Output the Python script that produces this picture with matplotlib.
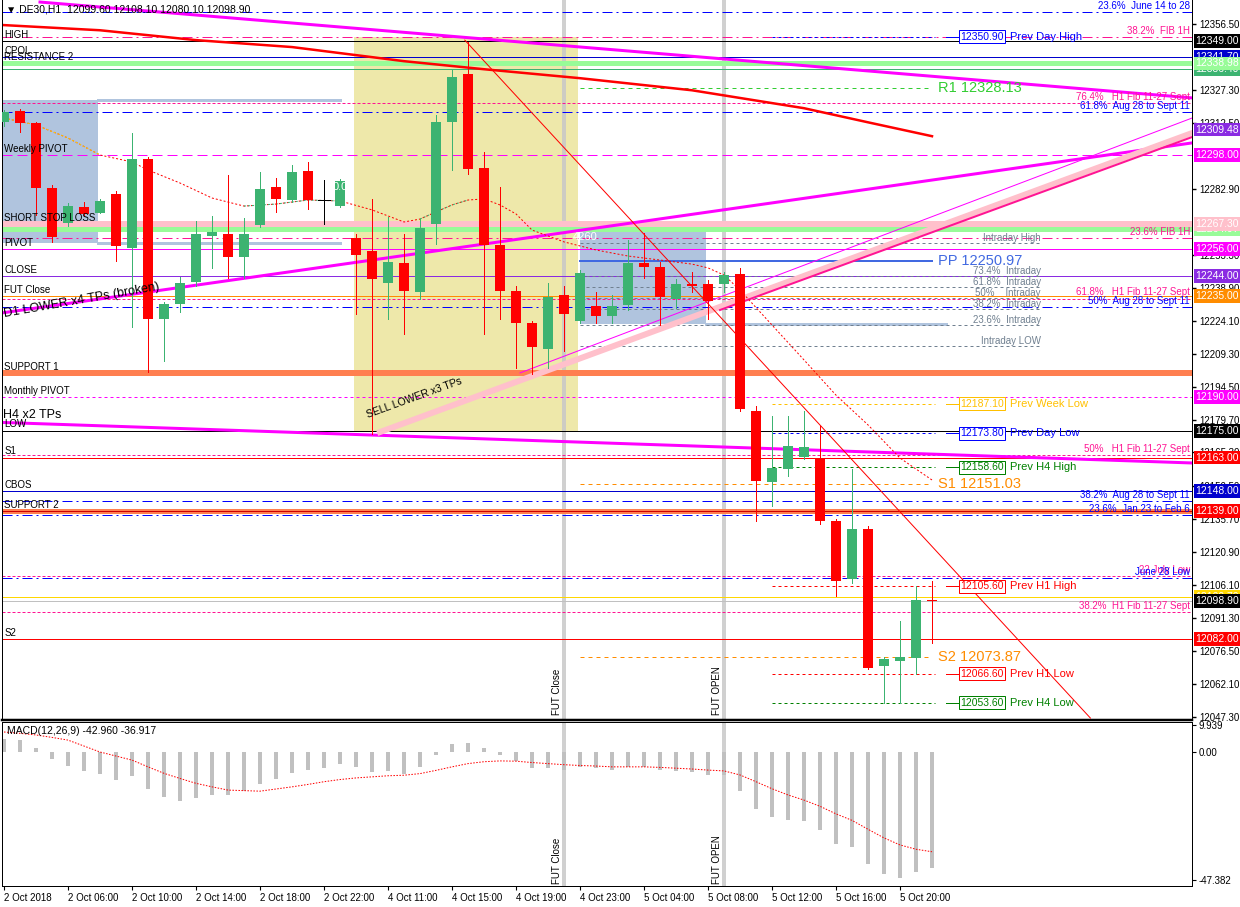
import matplotlib.pyplot as plt
from matplotlib.patches import Rectangle

plt.rcParams['font.family'] = ['Liberation Sans', 'DejaVu Sans']

# ---------------- DE30 H1 bars ----------------
opens = [12313.0, 12317.7, 12312.4, 12283.5, 12267.9, 12275.0, 12272.3, 12280.8, 12256.7, 12296.4,
         12225.1, 12231.8, 12241.6, 12262.1, 12263.0, 12252.7, 12267.0, 12283.9, 12278.1, 12291.0,
         12278.1, 12275.4, 12261.2, 12255.4, 12241.1, 12250.0, 12237.1, 12267.4, 12312.9, 12334.2,
         12292.4, 12258.1, 12237.6, 12222.9, 12211.7, 12235.4, 12224.2, 12230.9, 12226.4, 12231.3,
         12250.0, 12248.3, 12234.0, 12240.3, 12240.3, 12240.3, 12245.1, 12183.7, 12152.1, 12157.9,
         12163.2, 12162.3, 12134.7, 12108.9, 12131.1, 12070.1, 12072.3, 12073.7, 12099.6]
highs = [12318.0, 12318.5, 12313.0, 12284.8, 12276.5, 12277.2, 12278.5, 12282.1, 12308.0, 12297.3,
         12232.5, 12243.8, 12268.8, 12271.0, 12289.2, 12270.1, 12290.6, 12287.9, 12293.7, 12295.0,
         12287.0, 12287.5, 12263.0, 12278.6, 12270.5, 12263.0, 12269.6, 12316.0, 12336.0, 12348.5,
         12299.5, 12283.9, 12239.8, 12223.8, 12241.1, 12239.8, 12246.9, 12237.1, 12235.8, 12260.3,
         12263.4, 12250.5, 12242.9, 12246.0, 12242.5, 12246.0, 12247.8, 12185.9, 12181.5, 12181.5,
         12183.7, 12177.0, 12135.6, 12157.9, 12132.5, 12074.1, 12090.0, 12105.6, 12108.1]
lows = [12311.0, 12308.4, 12271.4, 12259.4, 12266.5, 12271.5, 12272.0, 12250.9, 12221.5, 12201.1,
        12206.0, 12228.0, 12239.4, 12247.5, 12243.4, 12243.4, 12266.0, 12272.8, 12277.0, 12274.1,
        12267.4, 12275.0, 12226.9, 12173.4, 12225.1, 12218.4, 12234.0, 12258.5, 12291.5, 12289.7,
        12218.4, 12225.1, 12202.8, 12200.2, 12202.8, 12210.4, 12222.9, 12222.9, 12222.9, 12228.7,
        12243.4, 12222.4, 12229.6, 12237.1, 12224.7, 12237.1, 12183.7, 12134.7, 12141.4, 12154.7,
        12162.3, 12133.4, 12101.3, 12107.1, 12068.8, 12053.6, 12053.6, 12066.6, 12080.1]
closes = [12317.5, 12312.6, 12283.5, 12261.6, 12275.4, 12271.9, 12277.7, 12257.6, 12296.4, 12225.1,
          12231.8, 12241.1, 12263.0, 12263.9, 12252.7, 12263.0, 12283.0, 12278.6, 12290.6, 12278.1,
          12278.1, 12286.6, 12253.6, 12242.9, 12250.5, 12237.6, 12265.6, 12312.9, 12332.9, 12291.9,
          12258.1, 12237.6, 12223.3, 12212.2, 12234.9, 12226.9, 12245.6, 12226.0, 12230.9, 12250.0,
          12248.3, 12234.5, 12240.7, 12239.4, 12232.7, 12244.7, 12184.6, 12152.5, 12158.3, 12168.1,
          12167.6, 12134.7, 12108.0, 12131.1, 12069.2, 12073.2, 12074.1, 12099.6, 12098.9]

time_labels = ["2 Oct 2018", "2 Oct 06:00", "2 Oct 10:00", "2 Oct 14:00", "2 Oct 18:00",
               "2 Oct 22:00", "4 Oct 11:00", "4 Oct 15:00", "4 Oct 19:00", "4 Oct 23:00",
               "5 Oct 04:00", "5 Oct 08:00", "5 Oct 12:00", "5 Oct 16:00", "5 Oct 20:00"]

# right scale labels that are not covered by price tags
price_ticks = [12356.50, 12327.30, 12312.50, 12282.90, 12253.30, 12238.90, 12224.10,
               12209.30, 12194.50, 12179.70, 12165.30, 12150.50, 12135.70, 12120.90,
               12106.10, 12091.30, 12076.50, 12062.10, 12047.30]

# short dashed moving average (bar, price)
ma_bars = [0, 2, 4, 6, 8, 9, 11, 13, 15, 17, 19, 21, 23, 25, 26, 27, 28, 29, 30, 31,
           32, 33, 35, 37, 39, 41, 43, 44, 45, 46, 48, 50, 52, 54, 56, 58]
ma_values = [12314.6, 12311.5, 12305.7, 12298.1, 12295.0, 12291.4, 12285.6, 12278.9, 12275.3, 12276.2,
             12278.0, 12277.6, 12273.6, 12268.2, 12269.5, 12272.7, 12275.8, 12278.0, 12278.5, 12275.8,
             12271.8, 12264.6, 12259.3, 12255.7, 12253.0, 12251.2, 12249.4, 12247.7, 12244.5, 12237.8,
             12222.2, 12206.6, 12190.9, 12177.6, 12162.8, 12153.0]
# thick red long moving average
ma200_bars = [0, 6, 12, 18, 25, 30, 36, 43, 50, 54, 58]
ma200_values = [12356.1, 12353.8, 12349.4, 12346.3, 12340.0, 12336.4, 12332.4, 12327.0, 12319.0, 12312.7, 12306.5]

# MACD(12,26,9)
macd_main = [4.8, 4.5, 1.5, -2.6, -5.2, -7.2, -8.0, -10.5, -8.9, -13.8,
             -16.7, -18.1, -17.0, -16.0, -15.9, -14.4, -11.7, -10.0, -7.8, -6.5,
             -6.0, -4.5, -5.5, -7.5, -7.0, -8.0, -5.5, -1.0, 3.0, 3.5,
             1.5, -1.0, -3.5, -6.0, -6.0, -6.5, -5.5, -6.0, -6.5, -5.5,
             -5.5, -6.5, -7.0, -7.5, -8.5, -8.5, -14.5, -21.0, -24.0, -25.0,
             -25.5, -29.0, -34.0, -35.0, -41.5, -45.0, -46.5, -44.5, -42.96]
macd_signal = [7.4, 6.9, 6.3, 5.4, 4.4, 2.2, 0.0, -1.5, -3.0, -5.5,
               -7.9, -9.8, -11.6, -12.9, -14.1, -14.3, -14.5, -13.7, -12.9, -12.0,
               -11.0, -10.2, -9.6, -9.2, -8.8, -8.6, -8.0, -6.8, -5.5, -4.3,
               -3.6, -3.3, -3.4, -3.9, -4.3, -4.7, -5.0, -5.2, -5.5, -5.5,
               -5.5, -5.7, -6.0, -6.3, -6.7, -7.0, -8.5, -11.0, -13.6, -15.9,
               -17.8, -20.1, -22.9, -25.3, -28.6, -31.8, -34.4, -36.0, -36.92]
macd_ticks = [9.939, 0.0, -47.382]
macd_tick_labels = ["9.939", "0.00", "-47.382"]

# horizontal levels with a name on the left
left_names = ["HIGH", "CPOL", "RESISTANCE 2", "Weekly PIVOT", "SHORT STOP LOSS", "PIVOT", "CLOSE",
              "FUT Close", "SUPPORT 1", "Monthly PIVOT", "LOW", "S1", "CBOS", "SUPPORT 2", "S2"]
left_prices = [12349.00, 12341.70, 12338.98, 12298.00, 12267.30, 12256.00, 12244.00,
               12235.00, 12200.80, 12190.00, 12175.00, 12163.00, 12148.00, 12139.00, 12082.00]

# fibonacci levels labelled at the right edge
fib_names = ["23.6%  June 14 to 28", "38.2%  FIB 1H", "76.4%   H1 Fib 11-27 Sept",
             "61.8%  Aug 28 to Sept 11", "23.6% FIB 1H", "61.8%   H1 Fib 11-27 Sept",
             "50%  Aug 28 to Sept 11", "50%   H1 Fib 11-27 Sept", "38.2%  Aug 28 to Sept 11",
             "23.6%  Jan 23 to Feb 6", "22 July Low", "June 28 Low", "38.2%  H1 Fib 11-27 Sept"]
fib_prices = [12361.9, 12350.8, 12321.3, 12317.3, 12261.0, 12234.0, 12230.2,
              12164.2, 12143.6, 12137.4, 12110.1, 12109.2, 12094.1]

# intraday fibonacci
intraday_names = ["Intraday High", "73.4%  Intraday", "61.8%  Intraday", "50%    Intraday",
                  "38.2%  Intraday", "23.6%  Intraday", "Intraday LOW"]
intraday_prices = [12258.8, 12244.1, 12239.2, 12234.3, 12229.3, 12222.2, 12212.7]

# previous period highs / lows
prev_names = ["Prev Day High", "Prev Week Low", "Prev Day Low", "Prev H4 High",
              "Prev H1 High", "Prev H1 Low", "Prev H4 Low"]
prev_prices = [12350.90, 12187.10, 12173.80, 12158.60, 12105.60, 12066.60, 12053.60]

# daily pivot points
pp_names = ["R1", "PP", "S1", "S2"]
pp_prices = [12328.13, 12250.97, 12151.03, 12073.87]

# price tags on the right scale
tag_values = [12341.70, 12336.40, 12338.98, 12349.00, 12309.48, 12298.00, 12264.97, 12267.30,
              12256.00, 12244.00, 12235.00, 12190.00, 12175.00, 12163.00, 12148.00, 12139.00,
              12100.70, 12098.90, 12082.00]

# trend lines: (bar0, price0, bar1, price1)
trend_upper = [2.25, 12366.4, 74.25, 12323.6]
trend_d1 = [-0.125, 12227.6, 74.25, 12303.5]
trend_lower = [-0.125, 12178.7, 74.25, 12160.6]
sell_band = [23.5, 12174.4, 74.25, 12307.9]
sell_thin = [32.25, 12200.8, 74.25, 12314.6]
sell_edge = [44.75, 12228.9, 74.25, 12306.1]
red_trend = [28.8, 12349.4, 67.9, 12046.7]

# ---------------- figure ----------------
W, H = 1240, 907
fig = plt.figure(figsize=(W / 100, H / 100), dpi=100)
ax = fig.add_axes([2 / W, 1 - 720 / H, 1190 / W, 720 / H])
mx = fig.add_axes([2 / W, 1 - 886 / H, 1190 / W, 164 / H], sharex=ax)

ax.set_xlim(-0.125, 74.25)
ax.set_ylim(12045.84, 12367.31)
mx.set_ylim(-49.6, 11.1)

px = 0.72  # one pixel in points

# background boxes
ax.add_patch(Rectangle((-0.125, 12258.8), 6.0, 12322.7 - 12258.8, fc='#B0C4DE', ec='none', zorder=0))
ax.add_patch(Rectangle((36.0, 12222.6), 7.9, 12263.7 - 12222.6, fc='#B0C4DE', ec='none', zorder=0))
ax.add_patch(Rectangle((21.9, 12174.4), 14.0, 12350.8 - 12174.4, fc='#EEE8AA', ec='none', zorder=0))
ax.plot([5.9, 21.0], [12322.7, 12322.7], color='#B0C4DE', lw=3 * px, zorder=0.5)
ax.plot([5.9, 21.0], [12258.8, 12258.8], color='#B0C4DE', lw=3 * px, zorder=0.5)
ax.plot([43.9, 58.9], [12222.6, 12222.6], color='#B0C4DE', lw=3 * px, zorder=0.5)

# futures session lines
for a in (ax, mx):
    for b in (35, 45):
        a.axvline(b, color='#C8C8C8', lw=4 * px, alpha=0.85, zorder=0.6)
for b, t in ((35, "FUT Close"), (45, "FUT OPEN")):
    ax.text(b - 0.45, 0.007, t, transform=ax.get_xaxis_transform(), rotation=90,
            ha='center', va='bottom', fontsize=7)
    mx.text(b - 0.45, 0.01, t, transform=mx.get_xaxis_transform(), rotation=90,
            ha='center', va='bottom', fontsize=7)

# left named levels
left_styles = [('black', '-', 1), ('#0000CD', '-', 1), ('#98FB98', '-', 5),
               ('#FF00FF', (0, (10, 5)), 1), ('#FFC0CB', '-', 6), ('#FF00FF', '-', 1),
               ('#8A2BE2', '-', 1), ('#FF8C00', '-', 1), ('#FF7F50', '-', 6),
               ('#FF00FF', (0, (3, 3)), 1), ('black', '-', 1), ('#FF0000', '-', 1),
               ('#0000CD', '-', 1), ('#FF7F50', '-', 5), ('#FF0000', '-', 1)]
for name, p, (c, ls, w) in zip(left_names, left_prices, left_styles):
    ax.axhline(p, color=c, ls=ls, lw=w * px, zorder=1)
    ax.annotate(name, (0, p), xycoords=('axes fraction', 'data'), xytext=(1.5, 1),
                textcoords='offset points', fontsize=7, va='bottom', zorder=6)
ax.axhline(12264.97, color='#98FB98', lw=5 * px, zorder=1)
ax.axhline(12336.4, color='#3CB371', lw=1 * px, zorder=1)
ax.axhline(12139.0, color='#CC0000', lw=1 * px, zorder=1.1)
ax.axhline(12100.7, color='#FFD700', lw=1 * px, zorder=1)
ax.axhline(12098.9, color='#C0C0C0', lw=1 * px, zorder=1)
ax.text(0.001, 12179.5, "H4 x2 TPs", transform=ax.get_yaxis_transform(), fontsize=9, va='bottom')

# fibonacci levels
fib_colors = ['#0000FF', '#FF1493', '#FF1493', '#0000FF', '#FF1493', '#FF1493', '#0000FF',
              '#FF1493', '#0000FF', '#0000FF', '#FF1493', '#0000FF', '#FF1493']
for name, p, c in zip(fib_names, fib_prices, fib_colors):
    ls = (0, (10, 4, 2, 4)) if c == '#0000FF' or 'FIB 1H' in name else (0, (3, 2))
    ax.axhline(p, color=c, ls=ls, lw=1 * px, zorder=1.2)
    ax.annotate(name, (1, p), xycoords=('axes fraction', 'data'), xytext=(-1.5, 0.8),
                textcoords='offset points', fontsize=7, color=c, ha='right', va='bottom', zorder=6)

# intraday fib
for name, p in zip(intraday_names, intraday_prices):
    ax.plot([36.0, 64.9], [p, p], color='#708090', ls=(0, (3, 3)), lw=1 * px, zorder=1)
    ax.text(64.8, p, name, color='#708090', fontsize=7, ha='right', va='bottom', zorder=6)

# previous highs / lows
prev_colors = ['#0000FF', '#FFC000', '#0000FF', '#008000', '#FF0000', '#FF0000', '#008000']
for name, p, c in zip(prev_names, prev_prices, prev_colors):
    ax.plot([48.0, 58.2], [p, p], color=c, ls=(0, (3, 3)), lw=1 * px, zorder=1.3)
    ax.plot([58.9, 59.6], [p, p], color=c, lw=1 * px, zorder=1.3)
    ax.text(59.75, p, f"{p:.2f}", color=c, fontsize=7.5, ha='left', va='center', zorder=6,
            bbox=dict(boxstyle='square,pad=0.14', fc='white', ec=c, lw=1 * px))
    ax.text(62.9, p, name, color=c, fontsize=8, ha='left', va='center', zorder=6)

# daily pivots
pp_colors = ['#32CD32', '#4169E1', '#FF8C00', '#FF8C00']
for name, p, c in zip(pp_names, pp_prices, pp_colors):
    if name == "PP":
        ax.plot([36.0, 58.0], [p, p], color=c, lw=2 * px, zorder=1.3)
    else:
        ax.plot([36.0, 58.0], [p, p], color=c, ls=(0, (4, 4)), lw=1 * px, zorder=1.3)
    ax.text(58.4, p, f"{name} {p:.2f}", color=c, fontsize=10.5, ha='left', va='center', zorder=6)


# trend lines
def tl(seg, **kw):
    ax.plot([seg[0], seg[2]], [seg[1], seg[3]], **kw)


ax.plot(ma200_bars, ma200_values, color='#FF0000', lw=2.5 * px, zorder=2)
tl(trend_upper, color='#FF00FF', lw=3 * px, zorder=2)
tl(trend_d1, color='#FF00FF', lw=3 * px, zorder=2)
tl(trend_lower, color='#FF00FF', lw=3 * px, zorder=2)
tl(sell_band, color='#FFC0CB', lw=6 * px, zorder=2)
tl(sell_thin, color='#FF00FF', lw=1 * px, zorder=2.1)
tl(sell_edge, color='#FF1493', lw=2 * px, zorder=2.1)
tl(red_trend, color='#FF0000', lw=1 * px, zorder=4)
ax.plot(ma_bars, ma_values, color='#FF0000', ls=(0, (2, 2)), lw=1 * px, zorder=4)
# yellow / green stretches of the same average
ax.plot(ma_bars[:4], ma_values[:4], color='#FFE000', ls=(0, (2, 2)), lw=1 * px, zorder=4.1)
ax.plot(ma_bars[8:12], ma_values[8:12], color='#3CB371', ls=(0, (2, 2)), lw=1 * px, zorder=4.1)
ax.plot(ma_bars[14:18], ma_values[14:18], color='#3CB371', ls=(0, (2, 2)), lw=1 * px, zorder=4.1)

ax.text(0.05, 12225.8, "D1 LOWER x4 TPs (broken)", rotation=10, rotation_mode='anchor',
        fontsize=9, ha='left', va='baseline', zorder=6)
ax.text(22.75, 12180.7, "SELL LOWER x3 TPs", rotation=20, rotation_mode='anchor',
        fontsize=7.5, ha='left', va='baseline', zorder=6)

# candles
for i, (o, h, l, c) in enumerate(zip(opens, highs, lows, closes)):
    col = '#3CB371' if c > o else ('#FF0000' if c < o else 'black')
    ax.plot([i, i], [l, h], color=col, lw=1 * px, zorder=5)
    if c == o:
        ax.plot([i - 0.35, i + 0.35], [o, o], color=col, lw=1 * px, zorder=5)
    else:
        ax.add_patch(Rectangle((i - 0.34, min(o, c)), 0.68, max(abs(c - o), 0.5),
                               fc=col, ec='none', zorder=5))
ax.text(21, 12283.8, "0.0", color='white', fontsize=8, ha='center', va='center', zorder=6)
ax.text(36.3, 12261.5, "4260", color='white', fontsize=8, ha='center', va='center', zorder=6)

# header
ax.text(0.003, 1 - 9 / 720, "\u25BC DE30,H1  12099.60 12108.10 12080.10 12098.90",
        transform=ax.transAxes, fontsize=7.5, va='center', zorder=7)

# right scale
ax.yaxis.tick_right()
ax.set_yticks(price_ticks)
ax.set_yticklabels([f"{v:.2f}" for v in price_ticks])
ax.tick_params(axis='y', direction='out', length=3, width=1, labelsize=7, pad=2)
ax.tick_params(axis='x', bottom=False, labelbottom=False)
tag_colors = ['#0000CD', '#3CB371', '#98FB98', 'black', '#8A2BE2', '#FF00FF', '#98FB98', '#FFC0CB',
              '#FF00FF', '#8A2BE2', '#FF8C00', '#FF00FF', 'black', '#FF0000', '#0000CD', '#FF0000',
              '#FFD700', 'black', '#FF0000']
for v, c in zip(tag_values, tag_colors):
    ax.annotate(f"{v:.2f}", (1, v), xycoords=('axes fraction', 'data'), xytext=(2.5, 0),
                textcoords='offset points', fontsize=7.5, color='white', ha='left', va='center',
                annotation_clip=False, zorder=8,
                bbox=dict(boxstyle='square,pad=0.18', fc=c, ec='none'))

ax.spines['top'].set_visible(False)
ax.spines['bottom'].set_linewidth(2.5 * px)
ax.spines['left'].set_linewidth(1 * px)
ax.spines['right'].set_linewidth(1 * px)

# MACD panel
xs = list(range(len(macd_main)))
mx.bar(xs, macd_main, width=0.2, color='#C0C0C0', zorder=2)
mx.plot(xs, macd_signal, color='#FF0000', ls=(0, (1.5, 1.5)), lw=1 * px, zorder=3)
mx.yaxis.tick_right()
mx.set_yticks(macd_ticks)
mx.set_yticklabels(macd_tick_labels)
mx.tick_params(axis='y', direction='out', length=3, labelsize=7, pad=2)
mx.set_xticks(list(range(0, 57, 4)))
mx.set_xticklabels(time_labels, ha='left')
mx.tick_params(axis='x', direction='out', length=3, labelsize=7, pad=2)
mx.text(0.004, 1 - 9 / 164, "MACD(12,26,9) -42.960 -36.917", transform=mx.transAxes,
        fontsize=7.5, va='center')
for s in mx.spines.values():
    s.set_linewidth(1 * px)

fig.savefig("out.png", dpi=100)
